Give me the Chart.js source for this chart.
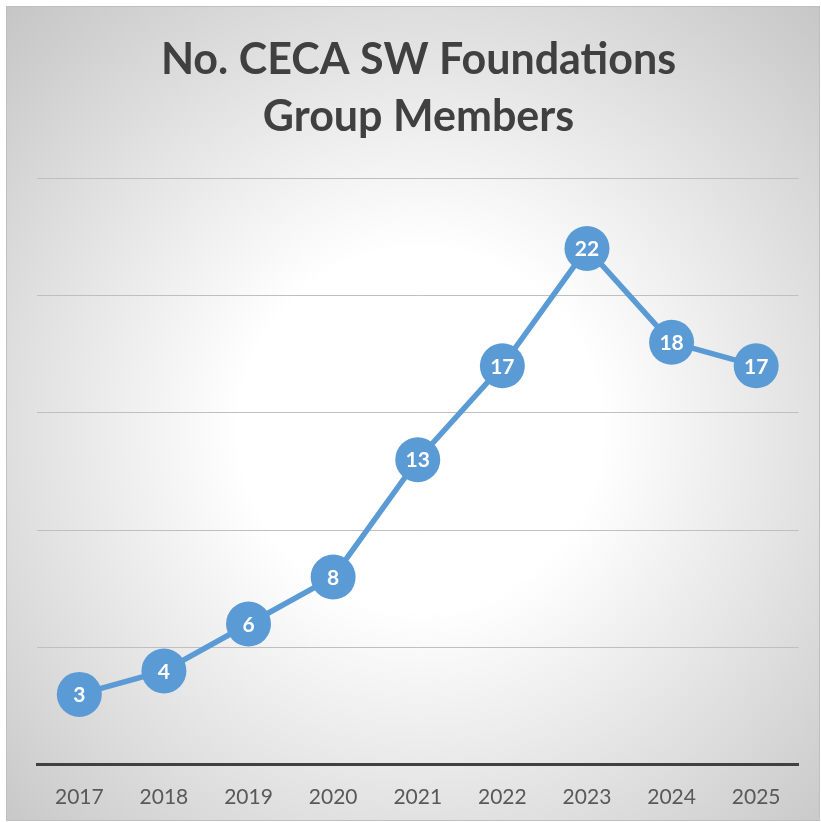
<!DOCTYPE html>
<html>
<head>
<meta charset="utf-8">
<script src="https://cdn.jsdelivr.net/npm/chart.js@4"></script>
<style>
html,body{margin:0;padding:0;background:#fff;}
#wrap{width:821px;height:822px;position:relative;}
</style>
</head>
<body>
<div id="wrap"><canvas id="c" width="821" height="822"></canvas></div>
<script>
const titleLines = ["No. CECA SW Foundations", "Group Members"];
const years = ["2017","2018","2019","2020","2021","2022","2023","2024","2025"];
const members = [3, 4, 6, 8, 13, 17, 22, 18, 17];

const bgPlugin = {
  id: 'bg',
  beforeDraw(chart) {
    const ctx = chart.ctx;
    ctx.save();
    ctx.fillStyle = '#ffffff';
    ctx.fillRect(0, 0, chart.width, chart.height);
    const g = ctx.createRadialGradient(420, 430, 0, 420, 430, 600);
    g.addColorStop(0, '#ffffff');
    g.addColorStop(0.3, '#ffffff');
    g.addColorStop(1, '#c4c4c4');
    ctx.fillStyle = g;
    ctx.fillRect(7, 7, 812, 813);
    ctx.strokeStyle = '#bfbfbf';
    ctx.lineWidth = 1;
    ctx.strokeRect(6.5, 6.5, 813, 814);
    ctx.restore();
  }
};

const labelPlugin = {
  id: 'ptLabels',
  afterDatasetsDraw(chart) {
    const ctx = chart.ctx;
    const meta = chart.getDatasetMeta(0);
    ctx.save();
    ctx.fillStyle = '#ffffff';
    ctx.font = 'bold 21px Lato';
    ctx.textAlign = 'center';
    ctx.textBaseline = 'middle';
    meta.data.forEach((pt, i) => {
      ctx.fillText(String(members[i]), pt.x, pt.y + 1);
    });
    ctx.restore();
  }
};

new Chart(document.getElementById('c'), {
  type: 'line',
  data: {
    labels: years,
    datasets: [{
      data: members,
      borderColor: '#5b9bd5',
      backgroundColor: '#5b9bd5',
      borderWidth: 5.5,
      pointRadius: 22.5,
      pointHoverRadius: 22.5,
      pointBackgroundColor: '#5b9bd5',
      pointBorderWidth: 0,
      tension: 0,
      clip: false
    }]
  },
  options: {
    responsive: false,
    animation: false,
    devicePixelRatio: 1,
    layout: { padding: { left: 37, right: 21, top: 0, bottom: -8 } },
    plugins: {
      legend: { display: false },
      tooltip: { enabled: false },
      title: {
        display: true,
        text: titleLines,
        color: '#404040',
        font: { family: 'Lato', size: 43, weight: 'bold', lineHeight: 1.326 },
        padding: { top: 32, bottom: 32 }
      }
    },
    scales: {
      x: {
        offset: true,
        grid: { display: false, drawTicks: false },
        border: { display: true, color: '#404040', width: 3 },
        ticks: { color: '#595959', font: { family: 'Lato', size: 21 }, padding: 20 }
      },
      y: {
        min: 0, max: 25,
        afterFit(scale) { scale.width = 0; },
        ticks: { display: false, stepSize: 5 },
        border: { display: false },
        grid: { color: '#bfbfbf', lineWidth: 1, drawTicks: false }
      }
    }
  },
  plugins: [bgPlugin, labelPlugin]
});
</script>
</body>
</html>
